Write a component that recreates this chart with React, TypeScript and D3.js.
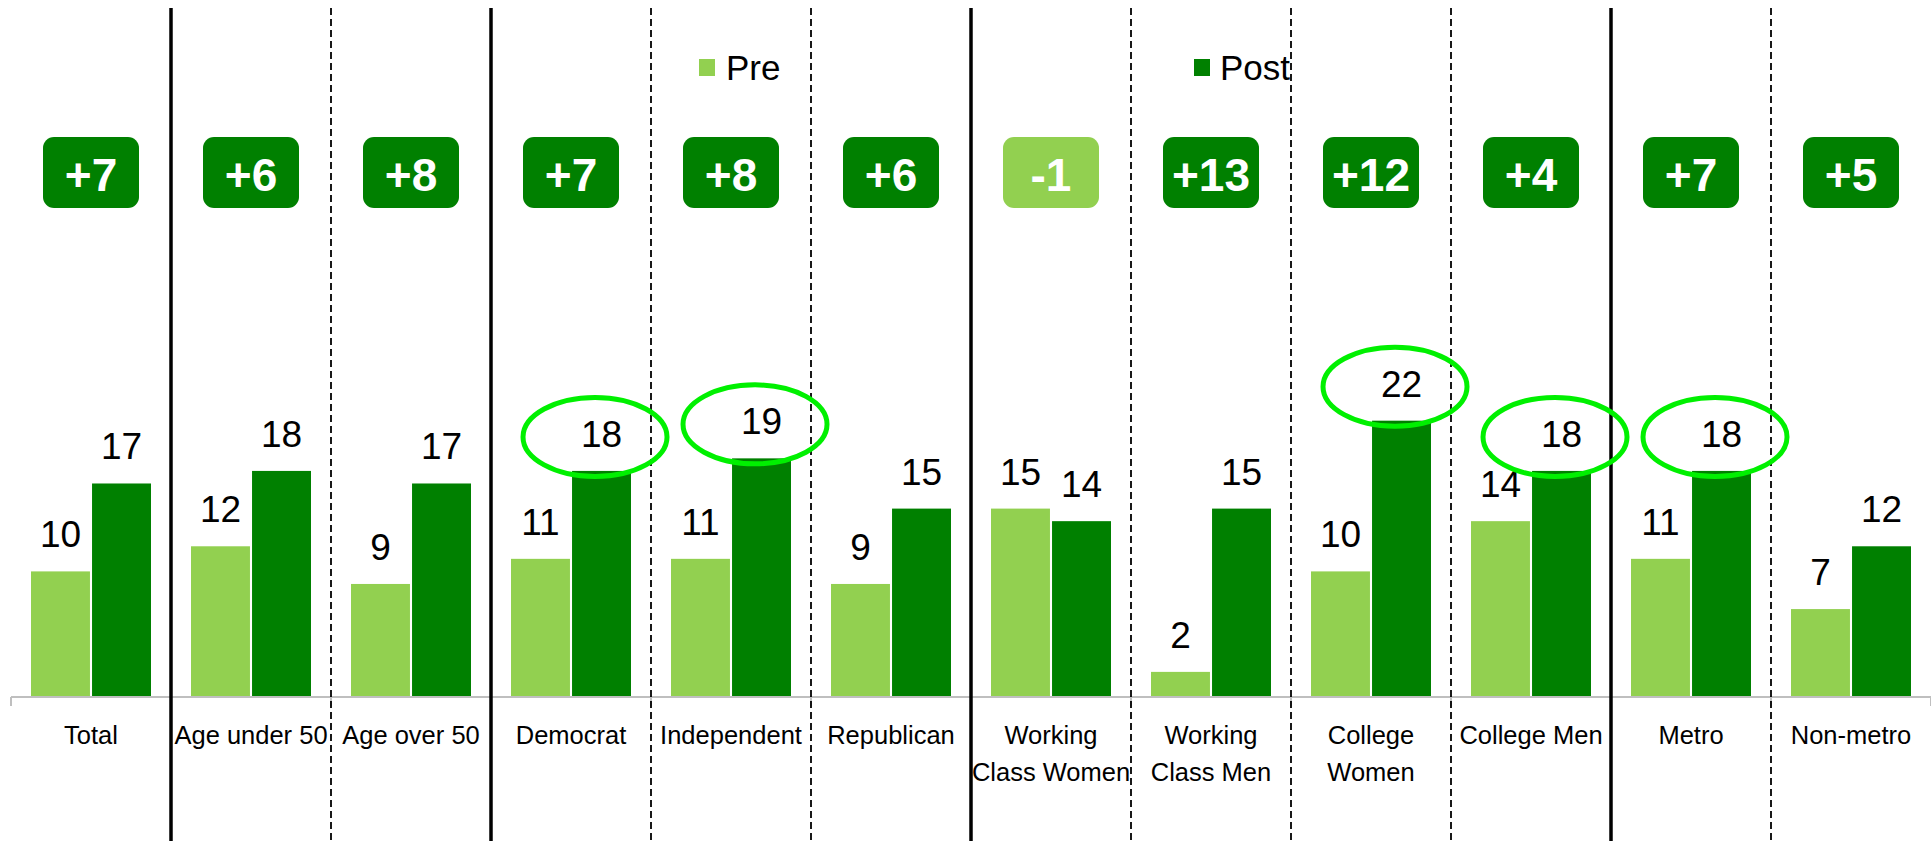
import React from "react";
import * as d3 from "d3";

// chart data
const categories = [
  "Total",
  "Age under 50",
  "Age over 50",
  "Democrat",
  "Independent",
  "Republican",
  "Working\nClass Women",
  "Working\nClass Men",
  "College\nWomen",
  "College Men",
  "Metro",
  "Non-metro",
];
const preValues = [10, 12, 9, 11, 11, 9, 15, 2, 10, 14, 11, 7];
const postValues = [17, 18, 17, 18, 19, 15, 14, 15, 22, 18, 18, 12];
const series = ["Pre", "Post"];
// categories whose post value is circled
const circled = ["Democrat", "Independent", "College\nWomen", "College Men", "Metro"];
// group separators: solid after these categories, dashed elsewhere
const solidAfter = ["Total", "Age over 50", "Republican", "College Men"];

const width = 1931;
const height = 841;
const baseY = 697;

const PRE = "#92D050";
const POST = "#008000";
const FONT = "'Liberation Sans', Arial, sans-serif";

const App: React.FC = () => {
  const x = d3.scaleBand<string>().domain(categories).range([11, width]).padding(0);
  const xSub = d3.scaleBand<string>().domain(series).range([20, 140]).paddingInner(0.034);
  const y = d3.scaleLinear().domain([0, 25]).range([baseY, baseY - 25 * 12.56]);

  const step = x.step();
  const diffs = categories.map((_, i) => postValues[i] - preValues[i]);

  return (
    <div style={{ position: "absolute", left: 0, top: 0 }}>
      <svg width={width} height={height} style={{ display: "block", background: "#fff" }}>
        {/* legend */}
        <rect x={699} y={59} width={16} height={17} fill={PRE} />
        <text x={726} y={80} fontFamily={FONT} fontSize={35} fill="#000">Pre</text>
        <rect x={1194} y={59} width={16} height={17} fill={POST} />
        <text x={1220} y={80} fontFamily={FONT} fontSize={35} fill="#000">Post</text>

        {/* difference boxes */}
        {categories.map((c, i) => {
          const cx = (x(c) as number) + step / 2;
          const d = diffs[i];
          return (
            <g key={"box" + c}>
              <rect x={cx - 48} y={137} width={96} height={71} rx={11} fill={d < 0 ? PRE : POST} />
              <text x={cx} y={191} textAnchor="middle" fontFamily={FONT} fontWeight="bold" fontSize={46} fill="#fff">
                {(d > 0 ? "+" : "") + d}
              </text>
            </g>
          );
        })}

        {/* bars */}
        {categories.map((c, i) => {
          const x0 = x(c) as number;
          const vals = [preValues[i], postValues[i]];
          return (
            <g key={"bars" + c}>
              {series.map((s, j) => {
                const bx = x0 + (xSub(s) as number);
                const bw = xSub.bandwidth();
                return (
                  <g key={s}>
                    <rect x={bx} y={y(vals[j])} width={bw} height={baseY - y(vals[j])} fill={j === 0 ? PRE : POST} />
                    <text x={bx + bw / 2} y={y(vals[j]) - 24} textAnchor="middle" fontFamily={FONT} fontSize={37} fill="#000">
                      {vals[j]}
                    </text>
                  </g>
                );
              })}
            </g>
          );
        })}

        {/* axis */}
        <line x1={11} x2={width} y1={baseY} y2={baseY} stroke="#bfbfbf" strokeWidth={2} />
        {d3.range(categories.length + 1).map((i) => (
          <line key={"tk" + i} x1={11 + step * i} x2={11 + step * i} y1={baseY} y2={baseY + 9} stroke="#bfbfbf" strokeWidth={2} />
        ))}
        {categories.map((c) => {
          const cx = (x(c) as number) + step / 2;
          const lines = c.split("\n");
          return (
            <text key={"lbl" + c} x={cx} y={744} textAnchor="middle" fontFamily={FONT} fontSize={25.5} fill="#000">
              {lines.map((l, k) => (
                <tspan key={k} x={cx} dy={k === 0 ? 0 : 37}>{l}</tspan>
              ))}
            </text>
          );
        })}

        {/* separators */}
        {categories.slice(0, -1).map((c) => {
          const sx = (x(c) as number) + step;
          const solid = solidAfter.includes(c);
          return (
            <line
              key={"sep" + c}
              x1={sx}
              x2={sx}
              y1={8}
              y2={height}
              stroke="#000"
              strokeWidth={solid ? 3.5 : 1.8}
              strokeDasharray={solid ? undefined : "7,4"}
            />
          );
        })}

        {/* highlight ellipses */}
        {circled.map((c) => {
          const i = categories.indexOf(c);
          const cx = (x(c) as number) + (xSub("Post") as number) + xSub.bandwidth() / 2 - 6.5;
          return (
            <ellipse key={"ell" + c} cx={cx} cy={y(postValues[i]) - 34} rx={72} ry={39.5} fill="none" stroke="#00f000" strokeWidth={5} />
          );
        })}
      </svg>
    </div>
  );
};

export default App;
